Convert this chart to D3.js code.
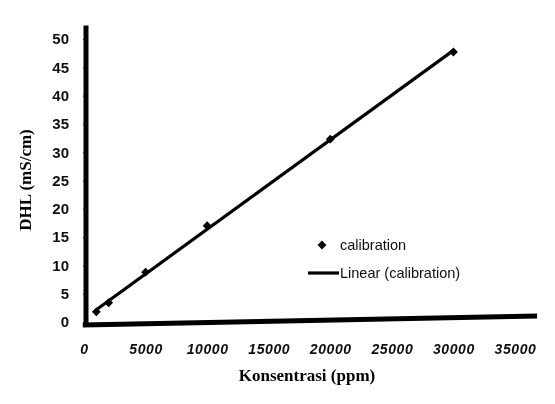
<!DOCTYPE html>
<html>
<head>
<meta charset="utf-8">
<script src="https://cdn.jsdelivr.net/npm/d3@7"></script>
<style>
  body { margin: 0; background: #fff; }
  svg { display: block; }
</style>
</head>
<body>
<div id="chart"></div>
<script>
// calibration points
var konsentrasi = [1000, 2000, 5000, 10000, 20000, 30000];
var dhl = [1.8, 3.4, 8.8, 17, 32.3, 47.7];

var xTicks = [0, 5000, 10000, 15000, 20000, 25000, 30000, 35000];
var yTicks = [0, 5, 10, 15, 20, 25, 30, 35, 40, 45, 50];

var legendLabels = ['calibration', 'Linear (calibration)'];

var width = 555, height = 404;

var svg = d3.select('#chart').append('svg')
  .attr('width', width)
  .attr('height', height);

// slight blur to mimic the scanned look
svg.append('defs').append('filter')
  .attr('id', 'scan')
  .append('feGaussianBlur')
  .attr('stdDeviation', 0.55);

var g = svg.append('g').attr('filter', 'url(#scan)');

var x = d3.scaleLinear().domain([0, 35000]).range([84, 515]);
var y = d3.scaleLinear().domain([0, 50]).range([322, 39]);

// y axis
var yAxis = g.append('g')
  .attr('transform', 'translate(86,0)')
  .call(d3.axisLeft(y).tickValues(yTicks).tickSize(3).tickPadding(14));
yAxis.select('.domain').remove();
yAxis.selectAll('.tick line').attr('stroke', '#000').attr('stroke-width', 1);
yAxis.selectAll('.tick text')
  .attr('font-family', 'Arial, "Liberation Sans", sans-serif')
  .attr('font-size', 15)
  .attr('font-weight', 'bold')
  .attr('fill', '#111');

g.append('line')
  .attr('x1', 86).attr('x2', 86)
  .attr('y1', y(-0.6)).attr('y2', y(52.4))
  .attr('stroke', '#000').attr('stroke-width', 5);

// x axis, slightly tilted like the scan
var xAxis = g.append('g')
  .attr('transform', 'translate(0,325)')
  .call(d3.axisBottom(x).tickValues(xTicks).tickFormat(d3.format('d')).tickSize(0).tickPadding(19));
xAxis.select('.domain').remove();
xAxis.selectAll('.tick text')
  .attr('font-family', 'Arial, "Liberation Sans", sans-serif')
  .attr('font-size', 14)
  .attr('font-weight', 'bold')
  .attr('font-style', 'italic')
  .attr('letter-spacing', 0.6)
  .attr('fill', '#111');

g.append('line')
  .attr('x1', x(-100)).attr('x2', x(36800))
  .attr('y1', 325).attr('y2', 325)
  .attr('stroke', '#000').attr('stroke-width', 5)
  .attr('transform', 'rotate(-1.13,' + x(0) + ',325)');

// linear trendline (least squares)
var mx = d3.mean(konsentrasi), my = d3.mean(dhl);
var sxy = d3.sum(konsentrasi, (d, i) => (d - mx) * (dhl[i] - my));
var sxx = d3.sum(konsentrasi, d => (d - mx) * (d - mx));
var slope = sxy / sxx, intercept = my - slope * mx;
var ends = d3.extent(konsentrasi);

g.append('line')
  .attr('x1', x(ends[0])).attr('y1', y(intercept + slope * ends[0]))
  .attr('x2', x(ends[1])).attr('y2', y(intercept + slope * ends[1]))
  .attr('stroke', '#000').attr('stroke-width', 3.2);

// markers
var marker = d3.symbol(d3.symbolDiamond2, 50);
g.selectAll('path.pt')
  .data(konsentrasi)
  .enter()
  .append('path')
  .attr('class', 'pt')
  .attr('d', marker)
  .attr('transform', (d, i) => 'translate(' + x(d) + ',' + y(dhl[i]) + ')')
  .attr('fill', '#000');

// legend
g.append('path')
  .attr('d', marker)
  .attr('transform', 'translate(322,245)')
  .attr('fill', '#000');
g.append('line')
  .attr('x1', 308).attr('x2', 339)
  .attr('y1', 273).attr('y2', 273)
  .attr('stroke', '#000').attr('stroke-width', 3.2);

g.selectAll('text.legend')
  .data(legendLabels)
  .enter()
  .append('text')
  .attr('class', 'legend')
  .attr('x', 340)
  .attr('y', (d, i) => 250 + i * 28)
  .attr('font-family', 'Arial, "Liberation Sans", sans-serif')
  .attr('font-size', 14.5)
  .attr('fill', '#111')
  .text(d => d);

// axis titles
g.append('text')
  .attr('transform', 'translate(31,180) rotate(-90)')
  .attr('text-anchor', 'middle')
  .attr('font-family', '"Liberation Serif", "Times New Roman", serif')
  .attr('font-size', 17)
  .attr('font-weight', 'bold')
  .text('DHL (mS/cm)');

g.append('text')
  .attr('x', 307)
  .attr('y', 381)
  .attr('text-anchor', 'middle')
  .attr('font-family', '"Liberation Serif", "Times New Roman", serif')
  .attr('font-size', 17)
  .attr('font-weight', 'bold')
  .text('Konsentrasi (ppm)');
</script>
</body>
</html>
